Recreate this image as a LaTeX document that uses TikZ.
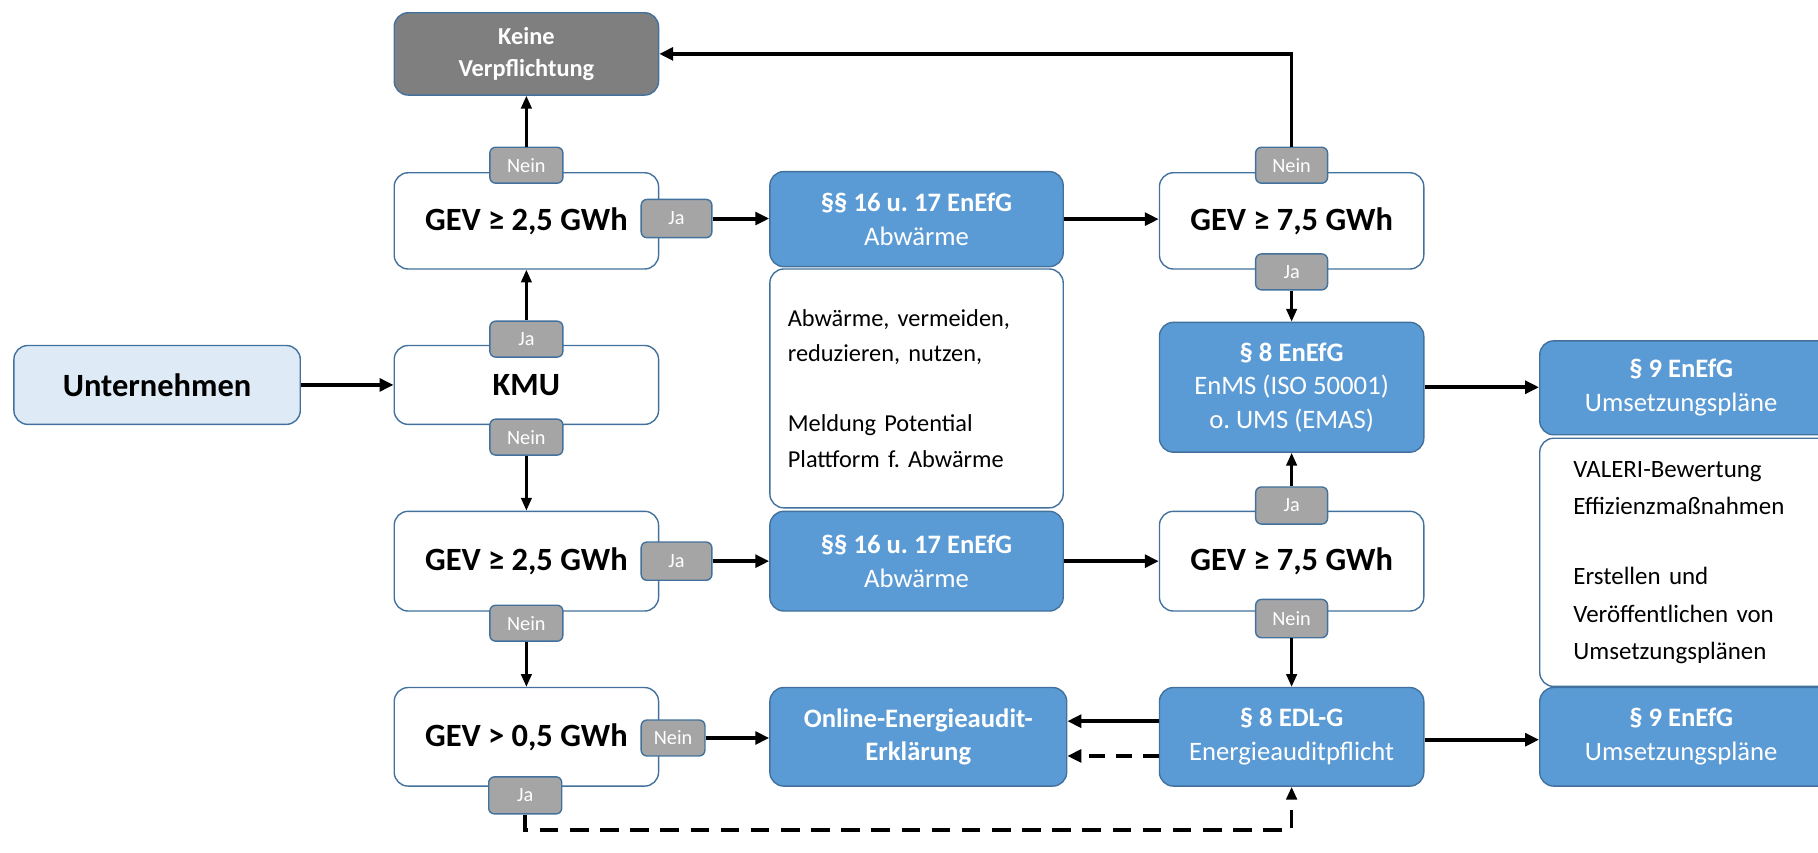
\documentclass[tikz,border=0pt]{standalone}
\usepackage{fontspec}
\setmainfont{Carlito}
\frenchspacing
\usetikzlibrary{arrows.meta}
\definecolor{bord}{HTML}{41719C}
\definecolor{bluef}{HTML}{5B9BD5}
\definecolor{tabgray}{HTML}{A5A5A5}
\definecolor{darkg}{HTML}{7F7F7F}
\definecolor{lightb}{HTML}{DEEBF7}
\tikzset{
 base/.style={draw=bord, line width=1.2pt, rounded corners=12pt, inner sep=0pt, align=center},
 whitebox/.style={base, fill=white, font=\fontsize{28}{32}\selectfont\bfseries},
 bluebox/.style={base, fill=bluef, text=white, font=\fontsize{23}{29}\selectfont},
 textbox/.style={base, fill=white, font=\fontsize{21}{31}\selectfont, align=left},
 tab/.style={draw=bord, line width=1.2pt, fill=tabgray, rounded corners=5pt, text=white, font=\fontsize{17.5}{17.5}\selectfont, inner sep=0pt},
 arr/.style={-{Triangle[length=12pt,width=11pt]}, line width=3.5pt},
 varr/.style={-{Triangle[length=11pt,width=9pt]}, line width=2.4pt},
}
\begin{document}
\begin{tikzpicture}[x=1pt,y=-1pt]
\useasboundingbox (0,0) rectangle (1568,735);
% column 1
\node[base, fill=darkg, text=white, font=\fontsize{21}{28}\selectfont\bfseries, minimum width=228pt, minimum height=71pt] (keine) at (454,46.5) {Keine\\Verpflichtung};
\node[whitebox, minimum width=228pt, minimum height=83pt] (g1) at (454,190.5) {GEV ≥ 2,5 GWh};
\node[whitebox, minimum width=228pt, minimum height=68pt] (kmu) at (454,332) {KMU};
\node[whitebox, minimum width=228pt, minimum height=86pt] (g2) at (454,484) {GEV ≥ 2,5 GWh};
\node[whitebox, minimum width=228pt, minimum height=85pt] (g3) at (454,635.5) {GEV > 0,5 GWh};
\node[base, fill=lightb, font=\fontsize{28}{32}\selectfont\bfseries, minimum width=247pt, minimum height=68pt] (unt) at (135.5,332) {Unternehmen};
% column 2
\node[bluebox, minimum width=253pt, minimum height=82pt] (s16a) at (790.5,189) {\textbf{§§ 16 u. 17 EnEfG}\\Abwärme};
\node[textbox, minimum width=253pt, minimum height=206pt, text width=222pt] (tb1) at (790.5,335) {Abwärme, vermeiden,\\reduzieren, nutzen,\\[29pt]Meldung Potential\\Plattform f. Abwärme};
\node[bluebox, minimum width=253pt, minimum height=86pt] (s16b) at (790.5,484) {\textbf{§§ 16 u. 17 EnEfG}\\Abwärme};
\node[bluebox, font=\fontsize{23}{29}\selectfont\bfseries, minimum width=256pt, minimum height=85pt] (online) at (792,635.5) {Online-Energieaudit-\\Erklärung};
% column 3
\node[whitebox, minimum width=228pt, minimum height=83pt] (h1) at (1114,190.5) {GEV ≥ 7,5 GWh};
\node[bluebox, minimum width=228pt, minimum height=112pt] (s8) at (1114,334) {\textbf{§ 8 EnEfG}\\EnMS (ISO 50001)\\o. UMS (EMAS)};
\node[whitebox, minimum width=228pt, minimum height=86pt] (h2) at (1114,484) {GEV ≥ 7,5 GWh};
\node[bluebox, minimum width=228pt, minimum height=85pt] (edl) at (1114,635.5) {\textbf{§ 8 EDL-G}\\Energieauditpflicht};
% column 4 (clipped at right edge)
\node[bluebox, minimum width=262pt, minimum height=81pt, label={[xshift=-9pt, text=white, align=center, font=\fontsize{23}{29}\selectfont]center:{\textbf{§ 9 EnEfG}\\Umsetzungspläne}}] (s9a) at (1459,334.5) {};
\node[base, fill=white, minimum width=262pt, minimum height=214pt, label={[xshift=-2pt, align=left, font=\fontsize{21.5}{32}\selectfont, text width=200pt]center:{VALERI-Bewertung\\Effizienzmaßnahmen\\[29pt]Erstellen und\\Veröffentlichen von\\Umsetzungsplänen}}] (val) at (1459,485) {};
\node[bluebox, minimum width=262pt, minimum height=85pt, label={[xshift=-9pt, text=white, align=center, font=\fontsize{23}{29}\selectfont]center:{\textbf{§ 9 EnEfG}\\Umsetzungspläne}}] (s9b) at (1459,635.5) {};
% tabs
\node[tab, minimum width=63pt, minimum height=31pt] (t1n) at (454,142.5) {Nein};
\node[tab, minimum width=61pt, minimum height=33pt] (t1j) at (583.5,188.5) {Ja};
\node[tab, minimum width=63pt, minimum height=31pt] (tkj) at (454,292.5) {Ja};
\node[tab, minimum width=63pt, minimum height=31pt] (tkn) at (454,377) {Nein};
\node[tab, minimum width=61pt, minimum height=33pt] (t2j) at (583.5,484) {Ja};
\node[tab, minimum width=63pt, minimum height=31pt] (t2n) at (454,537.5) {Nein};
\node[tab, minimum width=55pt, minimum height=31pt] (t3n) at (580.5,636.5) {Nein};
\node[tab, minimum width=63pt, minimum height=32pt] (t3j) at (453,686) {Ja};
\node[tab, minimum width=62pt, minimum height=31pt] (u1n) at (1114,142.5) {Nein};
\node[tab, minimum width=62pt, minimum height=31pt] (u1j) at (1114,234.5) {Ja};
\node[tab, minimum width=62pt, minimum height=32pt] (u2j) at (1114,436) {Ja};
\node[tab, minimum width=62pt, minimum height=33pt] (u2n) at (1114,533.5) {Nein};
% connectors
\draw[arr] (unt.east) -- (kmu.west);
\draw[varr] (tkj.north) -- (g1.south);
\draw[varr] (t1n.north) -- (keine.south);
\draw[arr] (t1j.east) -- (s16a.west |- t1j.east);
\draw[arr] (s16a.east) -- (h1.west |- s16a.east);
\draw[arr, line width=3pt] (u1n.north) |- (keine.east);
\draw[varr] (u1j.south) -- (s8.north);
\draw[arr] (s8.east) -- (s9a.west |- s8.east);
\draw[varr] (tkn.south) -- (g2.north);
\draw[arr] (t2j.east) -- (s16b.west);
\draw[arr] (s16b.east) -- (h2.west);
\draw[varr] (u2j.north) -- (s8.south);
\draw[varr] (u2n.south) -- (edl.north);
\draw[varr] (t2n.south) -- (g3.north);
\draw[arr] (t3n.east) -- (online.west |- t3n.east);
\draw[arr] ([yshift=13.5pt]edl.west) -- ([yshift=13.5pt]online.east);
\draw[arr, dash pattern=on 14pt off 9pt] ([yshift=-16.5pt]edl.west) -- ([yshift=-16.5pt]online.east);
\draw[arr] ([yshift=-2.5pt]edl.east) -- ([yshift=-2.5pt]s9b.west);
\coordinate (dc) at (453,716);
\draw[varr, line width=3pt, dash pattern=on 16pt off 10pt] (t3j.south) -- (dc) -| (edl.south);
\end{tikzpicture}
\end{document}
